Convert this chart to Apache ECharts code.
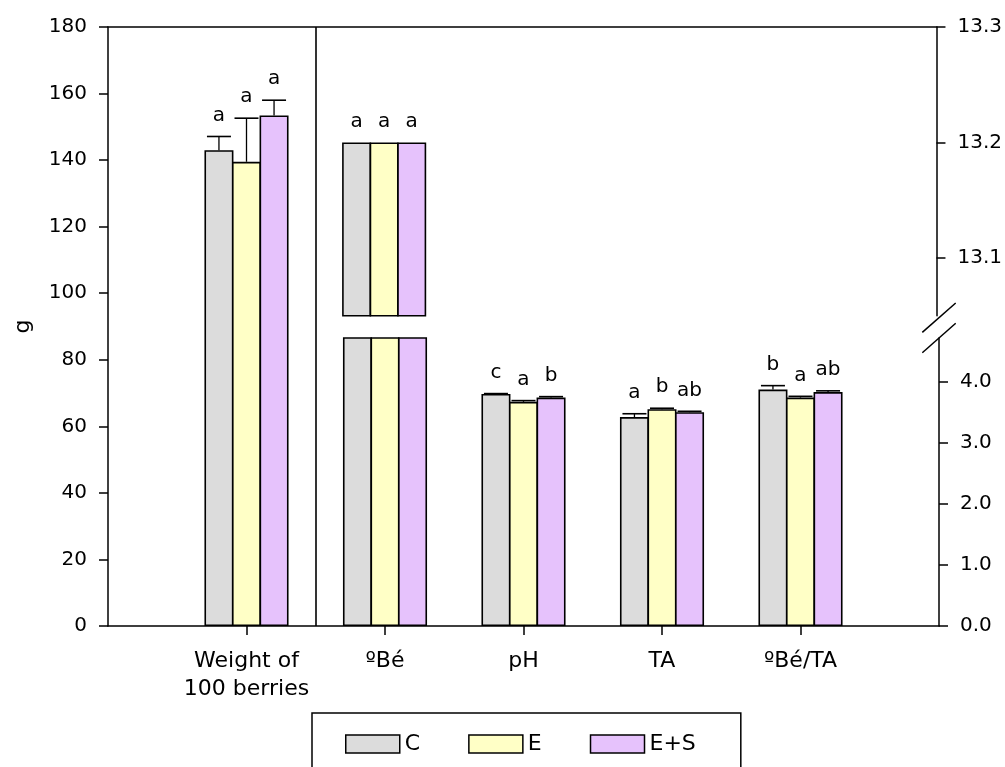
<!DOCTYPE html>
<html><head><meta charset="utf-8">
<script src="https://cdn.jsdelivr.net/npm/echarts@6/dist/echarts.min.js"></script>
<style>html,body{margin:0;padding:0;background:#fff}#c{width:1005px;height:767px}</style>
</head><body><div id="c"></div>
<script>
// ---------- data ----------
const categories = ['', 'Weight of\n100 berries', 'ºBé', 'pH', 'TA', 'ºBé/TA', ' '];
const treatments = ['C', 'E', 'E+S'];
const colors = ['#DCDCDC', '#FFFFC6', '#E6C2FC'];
// left axis (g)
const weightValues = [143.0, 139.5, 153.4];
const weightErrors = [4.1, 13.1, 4.6];
const weightLetters = ['a', 'a', 'a'];
// right axis
const beValues = [13.2, 13.2, 13.2];
const beLetters = ['a', 'a', 'a'];
const phValues = [3.80, 3.67, 3.74];
const phErrors = [0.005, 0.02, 0.015];
const phLetters = ['c', 'a', 'b'];
const taValues = [3.42, 3.55, 3.50];
const taErrors = [0.055, 0.015, 0.015];
const taLetters = ['a', 'b', 'ab'];
const ratioValues = [3.87, 3.74, 3.83];
const ratioErrors = [0.065, 0.02, 0.02];
const ratioLetters = ['b', 'a', 'ab'];
// axis ticks
const leftTicks = { min: 0, max: 180, interval: 20 };
const rightLowTicks = [0, 1, 2, 3, 4];
const rightHighTicks = [13.1, 13.2, 13.3];
const rightBreak = [4.715, 13.05];
const rightHighMax = 13.3;
const separatorAt = 1.5;

// ---------- style ----------
const FONT = 'DejaVu Sans';
const BAR_W = 29;
const BAR_GAP = -0.05;
const BAR_STEP = BAR_W * (1 + BAR_GAP);
const LINE = { color: '#000', width: 1.5 };

const chart = echarts.init(document.getElementById('c'), null, { renderer: 'canvas' });

function dash(n) { return Array.from({ length: n }, () => '-'); }

function makeRender(letters) {
  return function (params, api) {
    const cat = api.value(0), t = api.value(1), v = api.value(2), e = api.value(3);
    const base = api.coord([cat, v]);
    const top = api.coord([cat, v + e]);
    const x = base[0] + (t - 1) * BAR_STEP;
    const children = [];
    if (e > 0) {
      children.push({ type: 'line', shape: { x1: x, y1: base[1], x2: x, y2: top[1] }, style: { stroke: '#000', lineWidth: 1.3 } });
      children.push({ type: 'line', shape: { x1: x - 12, y1: top[1], x2: x + 12, y2: top[1] }, style: { stroke: '#000', lineWidth: 1.6 } });
    }
    children.push({ type: 'text', x: x, y: top[1] - 11,
      style: { text: letters[params.dataIndex], fontSize: 20, fontFamily: FONT, fill: '#000', align: 'center', verticalAlign: 'bottom' } });
    return { type: 'group', children };
  };
}

const series = [];
treatments.forEach((name, t) => {
  const style = { color: colors[t], borderColor: '#000', borderWidth: 1.6 };
  const common = { name, type: 'bar', barWidth: BAR_W, barGap: (BAR_GAP * 100) + '%', itemStyle: style };
  const w = dash(7); w[1] = weightValues[t];
  series.push(Object.assign({ xAxisIndex: 0, yAxisIndex: 0, data: w }, common));
  const u = dash(7); u[2] = beValues[t];
  series.push(Object.assign({ xAxisIndex: 1, yAxisIndex: 1, data: u }, common));
  const l = dash(7); l[2] = beValues[t]; l[3] = phValues[t]; l[4] = taValues[t]; l[5] = ratioValues[t];
  series.push(Object.assign({ xAxisIndex: 2, yAxisIndex: 2, data: l }, common));
});

// error bars + letters
const wData = [], wLet = [];
treatments.forEach((_, t) => { wData.push([1, t, weightValues[t], weightErrors[t]]); wLet.push(weightLetters[t]); });
const uData = [], uLet = [];
treatments.forEach((_, t) => { uData.push([2, t, beValues[t], 0]); uLet.push(beLetters[t]); });
const lData = [], lLet = [];
[[3, phValues, phErrors, phLetters], [4, taValues, taErrors, taLetters], [5, ratioValues, ratioErrors, ratioLetters]].forEach(([c, vals, errs, lets]) => {
  treatments.forEach((_, t) => { lData.push([c, t, vals[t], errs[t]]); lLet.push(lets[t]); });
});
series.push({ type: 'custom', xAxisIndex: 0, yAxisIndex: 0, renderItem: makeRender(wLet), data: wData, z: 5, silent: true });
series.push({ type: 'custom', xAxisIndex: 1, yAxisIndex: 1, renderItem: makeRender(uLet), data: uData, z: 5, silent: true, clip: false });
series.push({ type: 'custom', xAxisIndex: 2, yAxisIndex: 2, renderItem: makeRender(lLet), data: lData, z: 5, silent: true, clip: false });
// separator line
series.push({ type: 'line', xAxisIndex: 3, yAxisIndex: 0, data: [], silent: true,
  markLine: { silent: true, symbol: 'none', label: { show: false }, lineStyle: { color: '#000', width: 1.6, type: 'solid' }, data: [{ xAxis: separatorAt }] } });

const tickLabel = { color: '#000', fontFamily: FONT, fontSize: 20, margin: 21 };

chart.setOption({
  animation: false,
  backgroundColor: '#fff',
  grid: [
    { left: 108, right: 66, top: 27, bottom: 141 },
    { left: 108, right: 66, top: 27, bottom: 451.3 },
    { left: 108, right: 66, top: 338, bottom: 141 }
  ],
  xAxis: [
    { gridIndex: 0, type: 'category', data: categories, boundaryGap: false, position: 'bottom',
      axisLine: { lineStyle: LINE },
      axisTick: { show: true, inside: false, length: 9, interval: (i) => i > 0 && i < 6, lineStyle: LINE },
      axisLabel: { interval: 0, color: '#000', fontFamily: FONT, fontSize: 22, lineHeight: 28, margin: 21 },
      splitLine: { show: false } },
    { gridIndex: 1, type: 'category', data: categories, boundaryGap: false, position: 'top',
      axisLine: { lineStyle: LINE }, axisTick: { show: false }, axisLabel: { show: false }, splitLine: { show: false } },
    { gridIndex: 2, type: 'category', data: categories, boundaryGap: false, show: false },
    { gridIndex: 0, type: 'value', min: 0, max: 6, show: false }
  ],
  yAxis: [
    { gridIndex: 0, type: 'value', position: 'left', min: leftTicks.min, max: leftTicks.max, interval: leftTicks.interval,
      name: 'g', nameLocation: 'middle', nameGap: 74, nameTextStyle: { color: '#000', fontFamily: FONT, fontSize: 22 },
      axisLine: { show: true, lineStyle: LINE }, axisTick: { show: true, length: 9, lineStyle: LINE },
      axisLabel: tickLabel, splitLine: { show: false } },
    { gridIndex: 1, type: 'value', position: 'right', min: rightBreak[1], max: rightHighMax,
      axisLine: { show: true, lineStyle: LINE },
      axisTick: { show: true, length: 9, lineStyle: LINE, customValues: rightHighTicks },
      axisLabel: Object.assign({}, tickLabel, { customValues: rightHighTicks, formatter: (v) => v.toFixed(1) }),
      splitLine: { show: false } },
    { gridIndex: 2, type: 'value', position: 'right', min: 0, max: rightBreak[0],
      axisLine: { show: true, lineStyle: LINE },
      axisTick: { show: true, length: 9, lineStyle: LINE, customValues: rightLowTicks },
      axisLabel: Object.assign({}, tickLabel, { customValues: rightLowTicks, formatter: (v) => v.toFixed(1) }),
      splitLine: { show: false } }
  ],
  legend: {
    data: treatments, left: 312, top: 713, orient: 'horizontal',
    padding: [20, 45, 30, 33], itemGap: 48, itemWidth: 54, itemHeight: 18,
    borderColor: '#000', borderWidth: 1.5, icon: 'rect',
    itemStyle: { borderColor: '#000', borderWidth: 1.5 },
    textStyle: { color: '#000', fontFamily: FONT, fontSize: 22 },
    selectedMode: false
  },
  series
});

// axis break marks on the right axis
const xr = chart.convertToPixel({ xAxisIndex: 0 }, 6);
const yHi = chart.convertToPixel({ yAxisIndex: 1 }, rightBreak[1]);
const yLo = chart.convertToPixel({ yAxisIndex: 2 }, rightBreak[0]);
const dx = 16.7, dy = 14.7;
chart.setOption({
  graphic: [
    { type: 'line', shape: { x1: xr - dx, y1: yHi + 2 + dy, x2: xr + dx, y2: yHi + 2 - dy }, style: { stroke: '#000', lineWidth: 1.5 }, z: 100 },
    { type: 'line', shape: { x1: xr - dx, y1: yLo + dy, x2: xr + dx, y2: yLo - dy }, style: { stroke: '#000', lineWidth: 1.5 }, z: 100 }
  ]
});
</script></body></html>
